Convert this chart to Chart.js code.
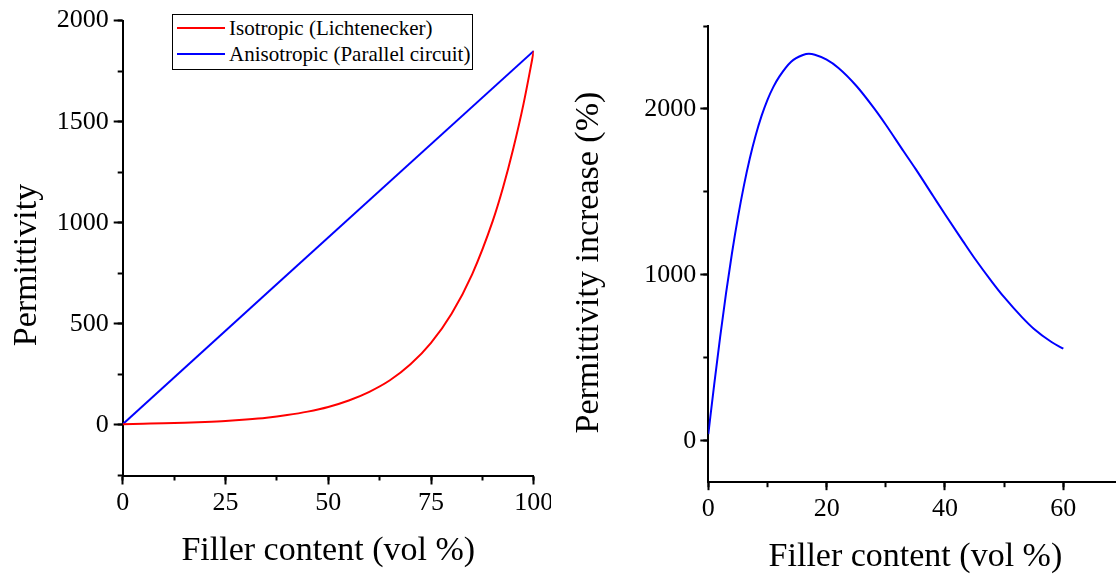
<!DOCTYPE html>
<html>
<head>
<meta charset="utf-8">
<title>Permittivity vs filler content</title>
<script src="https://cdn.jsdelivr.net/npm/chart.js@4.4.0/dist/chart.umd.min.js"></script>
<style>
  html, body { margin: 0; padding: 0; background: #fff; overflow: hidden; width: 1116px; height: 578px; }
  .panel { position: absolute; top: 0; height: 578px; overflow: hidden; }
  #leftPanel { left: 0; width: 551px; }
  #rightPanel { left: 552px; width: 564px; }
  #legend {
    position: absolute; left: 172px; top: 14px; width: 299px; height: 54px;
    border: 1px solid #000; background: #fff;
    font-family: 'Liberation Serif', 'Times New Roman', serif; font-size: 21px; color: #000;
  }
  .legend-row { display: flex; align-items: center; height: 26px; white-space: nowrap; }
  .legend-line { width: 48px; height: 0; border-top: 2px solid; margin: 0 4px; }
</style>
</head>
<body>
<div class="panel" id="leftPanel">
  <canvas id="leftChart" width="620" height="578"></canvas>
  <div id="legend"></div>
</div>
<div class="panel" id="rightPanel">
  <canvas id="rightChart" width="640" height="578"></canvas>
</div>
<script>
// Left panel: permittivity of the composite vs filler content
const fillerLeft = [0, 5, 10, 15, 20, 25, 30, 35, 40, 45, 50, 55, 60, 65, 70, 75, 80, 85, 90, 92.5, 95, 97.5, 100];
const isotropic = [4, 6, 8, 11, 15, 20, 27, 36, 49, 66, 89, 121, 164, 221, 300, 406, 550, 745, 1008, 1173, 1366, 1588, 1850];
const fillerLine = [0, 100];
const anisotropic = [4, 1850];

// Right panel: permittivity increase (anisotropic over isotropic)
const fillerRight = [0, 1, 2, 3, 4, 5, 6, 7, 8, 9, 10, 11, 12, 14, 16, 17, 18, 20, 22, 25, 28, 30, 33, 35, 38, 40, 43, 45, 48, 50, 53, 55, 58, 60];
const increase = [40, 340, 625, 890, 1130, 1345, 1535, 1700, 1840, 1958, 2055, 2133, 2195, 2285, 2325, 2332, 2327, 2297, 2247, 2140, 2005, 1905, 1745, 1640, 1475, 1365, 1205, 1100, 955, 865, 745, 675, 595, 555];

// Axis ranges and tick values
const leftRangeX = [0, 100];
const leftRangeY = [-250, 2000];
const leftMajorX = [0, 25, 50, 75, 100];
const leftMinorX = [0, 12.5, 25, 37.5, 50, 62.5, 75, 87.5, 100];
const leftMajorY = [0, 500, 1000, 1500, 2000];
const leftMinorY = [-250, 0, 250, 500, 750, 1000, 1250, 1500, 1750, 2000];

const rightRangeX = [0, 70];
const rightRangeY = [-250, 2500];
const rightMajorX = [0, 20, 40, 60];
const rightMinorX = [0, 10, 20, 30, 40, 50, 60, 70];
const rightMajorY = [0, 1000, 2000];
const rightMinorY = [0, 500, 1000, 1500, 2000, 2500];

const serif = "'Liberation Serif', 'Times New Roman', serif";
const tickFont = { family: serif, size: 26 };
const titleFont = { family: serif, size: 34, lineHeight: 1 };

Chart.defaults.color = '#000';

function toPoints(xs, ys) {
  return xs.map((x, i) => ({ x: x, y: ys[i] }));
}

function setTicks(values) {
  return scale => { scale.ticks = values.map(v => ({ value: v })); };
}

function majorAxis(range, values, pos, tickLen, labelPad, title, titlePad, size) {
  return {
    type: 'linear',
    position: pos,
    weight: 1,
    min: range[0],
    max: range[1],
    border: { display: true, color: '#000', width: 2 },
    grid: { drawOnChartArea: false, drawTicks: true, tickLength: tickLen, tickWidth: 2, tickColor: '#000' },
    ticks: {
      padding: labelPad,
      maxRotation: 0,
      autoSkip: false,
      font: tickFont,
      color: '#000',
      callback: v => String(v)
    },
    afterBuildTicks: setTicks(values),
    title: { display: true, text: title, font: titleFont, color: '#000', padding: titlePad },
    afterFit: pos === 'left' ? (s => { s.width = size; }) : (s => { s.height = size; })
  };
}

function minorAxis(range, values, pos) {
  return {
    type: 'linear',
    axis: pos === 'left' ? 'y' : 'x',
    position: pos,
    weight: 0,
    min: range[0],
    max: range[1],
    border: { display: false },
    grid: { drawOnChartArea: false, drawTicks: true, tickLength: 5, tickWidth: 2, tickColor: '#000' },
    ticks: { display: false },
    afterBuildTicks: setTicks(values),
    afterFit: pos === 'left' ? (s => { s.width = 0; }) : (s => { s.height = 0; })
  };
}

function lineSet(label, points, color) {
  return {
    label: label,
    data: points,
    borderColor: color,
    backgroundColor: color,
    borderWidth: 2,
    pointRadius: 0,
    fill: false,
    cubicInterpolationMode: 'monotone',
    xAxisID: 'x',
    yAxisID: 'y'
  };
}

const leftChart = new Chart(document.getElementById('leftChart'), {
  type: 'line',
  data: {
    datasets: [
      lineSet('Isotropic (Lichtenecker)', toPoints(fillerLeft, isotropic), '#ff0000'),
      lineSet('Anisotropic (Parallel circuit)', toPoints(fillerLine, anisotropic), '#0000ff')
    ]
  },
  options: {
    responsive: false,
    animation: false,
    layout: { padding: { left: 0, top: 19, right: 86.2, bottom: 0 } },
    plugins: { legend: { display: false }, tooltip: { enabled: false } },
    scales: {
      x: majorAxis(leftRangeX, leftMajorX, 'bottom', 9, 3, 'Filler content (vol %)', { top: 0, bottom: 9.9 }, 102.5),
      xMinor: minorAxis(leftRangeX, leftMinorX, 'bottom'),
      y: majorAxis(leftRangeY, leftMajorY, 'left', 9, 5, 'Permittivity    ', { top: 10.5, bottom: 0 }, 122.7),
      yMinor: minorAxis(leftRangeY, leftMinorY, 'left')
    }
  }
});

new Chart(document.getElementById('rightChart'), {
  type: 'line',
  data: {
    datasets: [
      lineSet('Permittivity increase', toPoints(fillerRight, increase), '#0000ff')
    ]
  },
  options: {
    responsive: false,
    animation: false,
    layout: { padding: { left: 0, top: 26, right: 69.5, bottom: 0 } },
    plugins: { legend: { display: false }, tooltip: { enabled: false } },
    scales: {
      x: majorAxis(rightRangeX, rightMajorX, 'bottom', 8, 3, 'Filler content (vol %)', { top: 0, bottom: 3.6 }, 95.8),
      xMinor: minorAxis(rightRangeX, rightMinorX, 'bottom'),
      y: majorAxis(rightRangeY, rightMajorY, 'left', 8, 4, 'Permittivity increase (%)  ', { top: 20.5, bottom: 0 }, 156.3),
      yMinor: minorAxis(rightRangeY, rightMinorY, 'left')
    }
  }
});

// HTML legend built from the left chart's datasets
function buildLegend(chart, el) {
  chart.data.datasets.forEach(ds => {
    const row = document.createElement('div');
    row.className = 'legend-row';
    const line = document.createElement('span');
    line.className = 'legend-line';
    line.style.borderTopColor = ds.borderColor;
    const text = document.createElement('span');
    text.textContent = ds.label;
    row.appendChild(line);
    row.appendChild(text);
    el.appendChild(row);
  });
}
buildLegend(leftChart, document.getElementById('legend'));
</script>
</body>
</html>
